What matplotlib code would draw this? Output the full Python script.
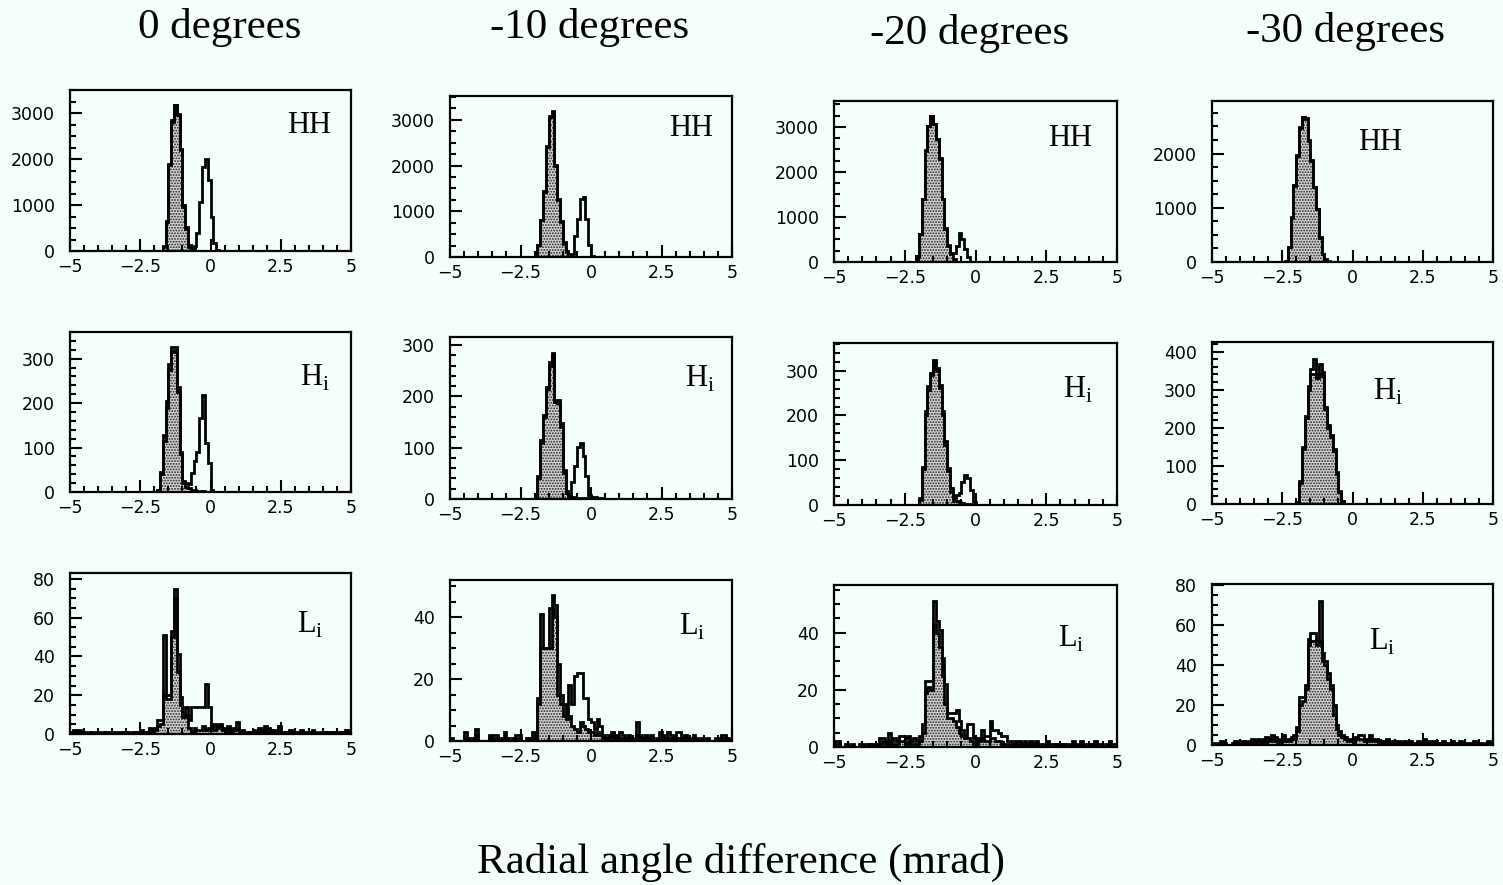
import numpy as np
import matplotlib.pyplot as plt
from matplotlib.ticker import MultipleLocator, FuncFormatter

plt.rcParams['hatch.color'] = '#202020'
plt.rcParams['hatch.linewidth'] = 0.9
plt.rcParams['mathtext.fontset'] = 'custom'
plt.rcParams['mathtext.rm'] = 'Liberation Serif'

# 100 bins of 0.1 mrad between -5 and 5
edges = np.linspace(-5, 5, 101)

angles = ['0 degrees', '-10 degrees', '-20 degrees', '-30 degrees']
row_names = ['HH', r'H$_\mathrm{i}$', r'L$_\mathrm{i}$']

# HH rows: (first bin edge, counts) ; *_all = open histogram, *_sel = shaded one
hh0_start = -1.7
hh0_all = [100, 650, 1900, 2850, 3190, 2980, 2230, 1000, 520, 120, 60, 100, 400, 1070, 1835, 2000, 1545, 743, 175, 20]
hh0_sel = [90, 630, 1870, 2820, 3180, 2960, 2200, 960, 490, 90, 20]
hh10_start = -1.9
hh10_all = [260, 810, 1440, 2420, 3080, 3190, 2020, 1260, 790, 320, 140, 60, 60, 470, 840, 1275, 1310, 840, 255, 30]
hh10_sel = [255, 800, 1420, 2400, 3060, 3170, 2000, 1240, 765, 290, 110, 30]
hh20_start = -2.1
hh20_all = [130, 620, 1400, 2480, 3030, 3250, 3070, 2740, 2300, 1410, 750, 380, 200, 200, 355, 650, 500, 280, 100]
hh20_sel = [130, 615, 1390, 2470, 3020, 3240, 3060, 2725, 2280, 1390, 725, 355, 170, 60]
hh30_start = -2.4
hh30_all = [10, 280, 830, 1415, 1970, 2490, 2680, 2650, 2250, 1880, 1385, 985, 460, 155, 60, 20]
hh30_sel = [5, 270, 820, 1400, 1960, 2480, 2670, 2640, 2240, 1870, 1375, 975, 450, 140, 30]

# H_i rows
hi0_start = -1.9
hi0_all = [5, 46, 128, 204, 289, 326, 326, 237, 91, 24, 20, 18, 43, 69, 90, 166, 218, 110, 65, 5]
hi0_sel = [3, 40, 115, 190, 275, 315, 320, 225, 85, 20, 12, 8, 5, 4, 3, 3, 2, 1, 1, 0]
hi10_start = -1.9
hi10_all = [44, 115, 164, 219, 268, 284, 193, 193, 148, 57, 15, 10, 34, 64, 102, 109, 83, 44, 8, 3, 3, 2, 1]
hi10_sel = [40, 110, 160, 215, 260, 280, 190, 188, 140, 50, 12, 5, 3, 2, 2, 1, 1, 1, 0, 0, 0, 0, 0]
hi20_start = -2.1
hi20_all = [0, 15, 86, 209, 265, 295, 325, 306, 269, 209, 142, 82, 37, 15, 22, 26, 52, 67, 60, 34, 7]
hi20_sel = [0, 12, 80, 200, 258, 290, 318, 300, 262, 200, 135, 75, 30, 10, 8, 6, 4, 3, 2, 1, 0]
hi30_start = -2.0
hi30_all = [5, 60, 150, 230, 310, 355, 380, 340, 368, 345, 255, 207, 180, 145, 84, 35, 9]
hi30_sel = [3, 55, 145, 225, 300, 340, 340, 330, 340, 335, 250, 200, 175, 140, 80, 32, 7]

# L_i rows, all 100 bins
li0_all = [1, 2, 1, 2, 0, 1, 0, 1, 0, 1, 1, 0, 1, 0, 1, 1, 0, 1, 0, 1,
           1, 0, 1, 1, 0, 2, 1, 1, 3, 1, 3, 7, 7, 51, 20, 20, 53, 75, 41, 19,
           10, 14, 7, 14, 14, 14, 14, 14, 26, 14, 4, 5, 4, 5, 3, 3, 4, 2, 3, 6,
           2, 2, 1, 1, 1, 2, 1, 3, 1, 4, 3, 1, 2, 1, 4, 1, 1, 1, 2, 1,
           1, 1, 2, 1, 1, 1, 2, 1, 0, 1, 1, 1, 1, 1, 0, 1, 1, 1, 2, 1]
li0_sel = [0, 1, 0, 1, 0, 0, 0, 1, 0, 0, 0, 0, 1, 0, 0, 1, 0, 0, 0, 1,
           0, 0, 0, 1, 0, 1, 0, 1, 2, 1, 2, 4, 5, 20, 18, 18, 50, 70, 32, 15,
           9, 10, 3, 1, 3, 2, 2, 4, 2, 3, 3, 2, 3, 4, 2, 1, 3, 1, 2, 3,
           1, 1, 0, 1, 0, 1, 0, 2, 0, 2, 1, 0, 1, 0, 2, 0, 1, 0, 1, 0,
           0, 1, 1, 0, 0, 1, 1, 0, 0, 0, 1, 0, 0, 1, 0, 0, 1, 0, 1, 0]
li10_all = [1, 0, 0, 0, 0, 3, 1, 0, 1, 4, 0, 0, 0, 0, 2, 2, 2, 0, 1, 3,
            1, 0, 1, 2, 2, 0, 0, 1, 1, 3, 2, 14, 41, 30, 30, 43, 47, 44, 25, 15,
            12, 8, 18, 12, 21, 22, 22, 14, 14, 7, 6, 4, 7, 5, 2, 1, 2, 3, 1, 2,
            3, 2, 1, 2, 1, 0, 6, 2, 1, 2, 1, 2, 0, 1, 3, 2, 1, 3, 2, 1,
            3, 3, 1, 2, 1, 0, 2, 1, 0, 1, 0, 1, 0, 0, 1, 0, 2, 2, 1, 0]
li10_sel = [0, 0, 0, 0, 0, 1, 0, 0, 0, 2, 0, 0, 0, 0, 1, 1, 1, 0, 0, 1,
            0, 0, 0, 1, 1, 0, 0, 0, 1, 1, 1, 12, 30, 30, 30, 30, 43, 40, 15, 12,
            8, 7, 8, 5, 4, 3, 6, 5, 4, 3, 3, 2, 3, 2, 1, 1, 1, 2, 0, 1,
            1, 1, 0, 1, 0, 0, 2, 1, 0, 1, 0, 1, 0, 0, 1, 1, 0, 1, 1, 0,
            1, 1, 0, 1, 0, 0, 1, 0, 0, 0, 0, 0, 0, 0, 0, 0, 1, 1, 0, 0]
li20_all = [2, 2, 0, 0, 1, 0, 1, 0, 0, 1, 1, 0, 1, 1, 0, 1, 3, 3, 2, 5,
            2, 3, 2, 4, 4, 3, 4, 2, 3, 2, 4, 8, 23, 23, 23, 51, 44, 41, 31, 22,
            12, 12, 12, 13, 9, 6, 4, 8, 8, 3, 2, 3, 6, 4, 4, 9, 6, 6, 5, 4,
            4, 2, 2, 1, 2, 2, 1, 2, 1, 2, 1, 2, 0, 1, 1, 2, 1, 1, 1, 0,
            1, 1, 0, 1, 2, 0, 1, 2, 1, 0, 1, 1, 2, 1, 1, 0, 1, 2, 1, 1]
li20_sel = [1, 1, 0, 0, 0, 0, 0, 0, 0, 0, 0, 0, 1, 0, 0, 0, 1, 2, 1, 2,
            1, 1, 1, 2, 2, 1, 2, 1, 1, 1, 2, 5, 19, 21, 20, 43, 40, 35, 25, 15,
            10, 10, 9, 7, 5, 4, 3, 3, 2, 1, 1, 2, 3, 2, 2, 3, 3, 2, 2, 1,
            1, 1, 1, 0, 1, 1, 0, 1, 0, 1, 0, 1, 0, 0, 0, 1, 0, 0, 1, 0,
            0, 1, 0, 0, 1, 0, 0, 1, 0, 0, 0, 1, 1, 0, 0, 0, 0, 1, 0, 0]
li30_all = [1, 0, 1, 2, 1, 0, 0, 1, 2, 2, 2, 2, 1, 2, 3, 2, 3, 2, 3, 4,
            3, 5, 4, 3, 2, 5, 3, 3, 4, 5, 9, 24, 24, 30, 53, 56, 56, 52, 72, 46,
            42, 36, 30, 20, 10, 7, 5, 4, 3, 3, 2, 4, 5, 5, 3, 3, 5, 3, 3, 2,
            2, 2, 3, 1, 2, 2, 2, 1, 2, 1, 2, 1, 1, 2, 1, 3, 2, 1, 2, 2,
            1, 1, 2, 1, 1, 2, 1, 1, 2, 1, 1, 1, 0, 2, 1, 1, 0, 1, 2, 1]
li30_sel = [0, 0, 0, 1, 0, 0, 0, 0, 1, 1, 1, 1, 0, 1, 1, 1, 2, 1, 1, 2,
            2, 3, 2, 1, 1, 3, 2, 2, 3, 3, 7, 20, 22, 28, 50, 52, 52, 50, 52, 42,
            40, 33, 28, 15, 8, 5, 4, 3, 2, 2, 1, 3, 3, 3, 2, 2, 3, 2, 2, 1,
            1, 1, 2, 0, 1, 1, 1, 0, 1, 0, 1, 0, 0, 1, 0, 2, 1, 0, 1, 1,
            0, 0, 1, 0, 0, 1, 0, 0, 1, 0, 0, 0, 0, 1, 0, 0, 0, 0, 1, 0]

ymax = [[3510, 3520, 3575, 2970], [360, 316, 362, 425], [83, 52, 56.7, 80.5]]
ymajor = [1000, 100, 20]
yminor = [250, 20, 5]


def full(start, counts):
    h = np.zeros(100)
    i = int(round((start + 5) / 0.1))
    h[i:i + len(counts)] = counts
    return h


hists = [
    [(full(hh0_start, hh0_all), full(hh0_start, hh0_sel)),
     (full(hh10_start, hh10_all), full(hh10_start, hh10_sel)),
     (full(hh20_start, hh20_all), full(hh20_start, hh20_sel)),
     (full(hh30_start, hh30_all), full(hh30_start, hh30_sel))],
    [(full(hi0_start, hi0_all), full(hi0_start, hi0_sel)),
     (full(hi10_start, hi10_all), full(hi10_start, hi10_sel)),
     (full(hi20_start, hi20_all), full(hi20_start, hi20_sel)),
     (full(hi30_start, hi30_all), full(hi30_start, hi30_sel))],
    [(np.array(li0_all), np.array(li0_sel)), (np.array(li10_all), np.array(li10_sel)),
     (np.array(li20_all), np.array(li20_sel)), (np.array(li30_all), np.array(li30_sel))],
]

# panel boxes in pixels: left, top, right, bottom
W, H = 1503, 885
boxes = [
    [(70, 90, 351, 251), (450, 96, 732, 257), (834, 101, 1117, 262), (1212, 101, 1493, 262)],
    [(70, 332, 351, 492), (450, 337, 732, 499), (834, 343, 1117, 505), (1212, 342, 1493, 504)],
    [(70, 573, 351, 734), (450, 580, 732, 741), (834, 585, 1117, 747), (1212, 584, 1493, 745)],
]
label_pos = [
    [(0.85, 0.78), (0.855, 0.80), (0.834, 0.77), (0.60, 0.74)],
    [(0.87, 0.71), (0.886, 0.74), (0.862, 0.71), (0.626, 0.69)],
    [(0.854, 0.68), (0.858, 0.71), (0.84, 0.67), (0.605, 0.64)],
]


def tick_fmt(v, pos):
    return '{:g}'.format(v).replace('-', '\u2212')


bg = '#f5fffa'
fig = plt.figure(figsize=(15.03, 8.85), dpi=100, facecolor=bg)

for r in range(3):
    for c in range(4):
        l, t, rr, b = boxes[r][c]
        ax = fig.add_axes([l / W, 1 - b / H, (rr - l) / W, (b - t) / H])
        ax.set_facecolor(bg)
        tot, sel = hists[r][c]
        ax.stairs(sel, edges, fill=True, facecolor='#d4d4d4', hatch='......')
        ax.stairs(sel, edges, color='black', linewidth=2)
        ax.stairs(tot, edges, color='black', linewidth=2)
        ax.set_xlim(-5, 5)
        ax.set_ylim(0, ymax[r][c])
        ax.xaxis.set_major_locator(MultipleLocator(2.5))
        ax.xaxis.set_minor_locator(MultipleLocator(0.5))
        ax.xaxis.set_major_formatter(FuncFormatter(tick_fmt))
        ax.yaxis.set_major_locator(MultipleLocator(ymajor[r]))
        ax.yaxis.set_minor_locator(MultipleLocator(yminor[r]))
        ax.tick_params(which='both', direction='in', top=False, right=False, width=1.5,
                       labelsize=12.5)
        ax.tick_params(which='major', length=8.5)
        ax.tick_params(which='minor', length=4.5)
        ax.tick_params(axis='y', pad=11)
        ax.tick_params(axis='x', pad=5)
        for s in ax.spines.values():
            s.set_linewidth(1.6)
        lx, ly = label_pos[r][c]
        ax.text(lx, ly, row_names[r], transform=ax.transAxes, ha='center', va='center',
                fontsize=22, family='Liberation Serif')

title_x = [220, 590, 970, 1345]
title_y = [38, 38, 44, 42]
for name, x, y in zip(angles, title_x, title_y):
    fig.text(x / W, 1 - y / H, name, ha='center', va='baseline', fontsize=31,
             family='Liberation Serif')
fig.text(741 / W, 1 - 873 / H, 'Radial angle difference (mrad)', ha='center', va='baseline',
         fontsize=31, family='Liberation Serif')

fig.savefig('out.png', dpi=100, facecolor=bg)
